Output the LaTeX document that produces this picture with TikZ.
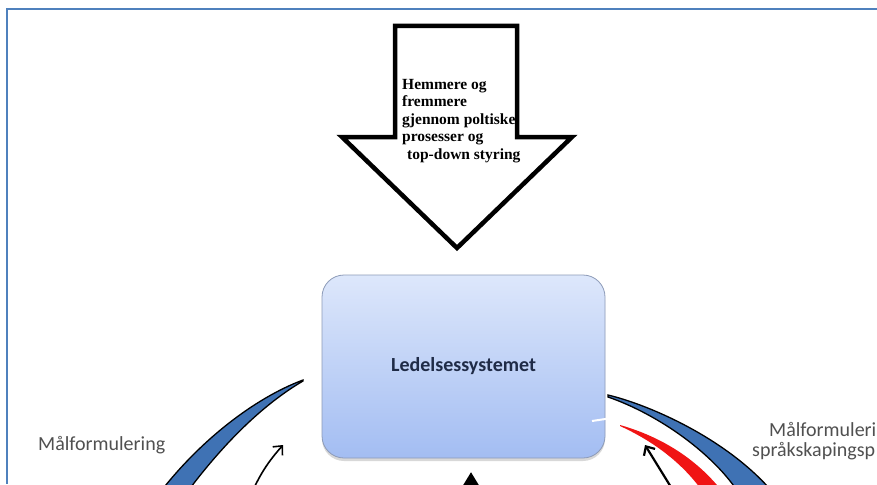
\documentclass[tikz,border=0pt]{standalone}
\usepackage{fontspec}
\setmainfont{Liberation Serif}
\newfontfamily\calibri{Carlito}
\usetikzlibrary{arrows.meta,shadows}

\definecolor{rahmenblau}{HTML}{4F81BD}
\definecolor{boksTopp}{HTML}{DDE7FB}
\definecolor{boksBunn}{HTML}{A3BDF2}
\definecolor{boksKant}{HTML}{8D9BB8}
\definecolor{boksTekst}{HTML}{1F2B47}
\definecolor{sigdblaa}{HTML}{3F72B4}
\definecolor{sigdroed}{HTML}{F01414}
\definecolor{tekstgraa}{HTML}{505050}

\begin{document}
\begin{tikzpicture}[x=1pt, y=-1pt]
  \useasboundingbox (0,0) rectangle (877,484);
  \clip (0,0) rectangle (877,484);  % Bild abschneiden.
  \fill [white] (0,0) rectangle (877,484);
  \tikzstyle{boks}=[draw=boksKant, line width=0.8pt, rounded corners=22pt,
    minimum width=283pt, minimum height=183pt, top color=boksTopp, bottom color=boksBunn,
    drop shadow={shadow xshift=0pt, shadow yshift=-3pt, opacity=0.3},
    text=boksTekst, font=\calibri\bfseries\fontsize{20}{24}\selectfont]
  \tikzstyle{etikett}=[inner sep=0pt, text=tekstgraa, font=\calibri\fontsize{20}{20}\selectfont]
  \tikzstyle{sigd}=[draw=black, line width=1.3pt, fill=sigdblaa]
  \tikzstyle{liten pil}=[line width=1.6pt, -{Straight Barb[length=7pt, width=13pt]}]

  \draw [rahmenblau, line width=2.5pt] (877,9) -- (7,9) -- (7,484);

  % Grosser Pfeil oben.
  \draw [line width=4.5pt, fill=white] (395,26) -- (517,26) -- (517,137) -- (572,137)
    -- (457,248) -- (342,137) -- (395,137) -- cycle;
  \node [inner sep=0pt, anchor=north west, align=left,
    font=\bfseries\fontsize{15.5}{17.5}\selectfont] (pilTekst) at (402,79)
    {Hemmere og\\fremmere\\gjennom poltiske\\prosesser og\\\hspace{5pt}top-down styring};

  \node [boks] (ledelse) at (463.5,366.5) {Ledelsessystemet};
  \draw [white, line width=2pt] (592,421) -- (612,418);

  % Sicheln.
  \draw [sigd] (303,380) .. controls (255,398) and (200,440) .. (158,495)
    -- (185,495) .. controls (222,445) and (262,405) .. (303,381) -- cycle;
  \draw [sigd] (608,395) .. controls (650,405) and (730,440) .. (775,495)
    -- (740,495) .. controls (715,455) and (660,415) .. (608,397) -- cycle;
  \fill [sigdroed] (620,425) .. controls (655,435) and (695,455) .. (725,495)
    -- (705,495) .. controls (685,465) and (655,442) .. (620,426) -- cycle;

  \node [etikett, anchor=base west] (maalV) at (38,450) {Målformulering};
  \node [etikett, anchor=north west, align=left] (maalH) at (752,422)
    {\hspace{17pt}Målformuleri\\språkskapingsp};

  \coordinate (pilV1) at (252,492);
  \coordinate (pilV2) at (283,445);
  \coordinate (pilH1) at (674,492);
  \coordinate (pilH2) at (645,445);
  \coordinate (pilB1) at (471,510);
  \coordinate (pilB2) at (471,472);
  \draw [liten pil] (pilV1) to [bend left=8] (pilV2);
  \draw [liten pil, line width=2.2pt] (pilH1) -- (pilH2);
  \draw [line width=4pt, -{Triangle[length=16pt, width=18pt]}] (pilB1) -- (pilB2);
\end{tikzpicture}
\end{document}
